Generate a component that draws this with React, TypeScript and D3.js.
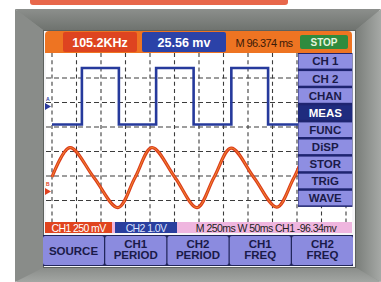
import React from 'react';
import * as d3 from 'd3';

const W = 381;
const H = 282;

// grid divisions
const gridCols = [0, 1, 2, 3, 4, 5, 6, 7, 8, 9, 10, 11, 12];
const gridRows = [1, 2, 3, 4, 5, 6];

// CH2 square wave (divisions)
const squareEdges = [1.22, 2.73, 4.25, 5.78, 7.32, 8.82];
const squareLow = 4.1;
const squareHigh = 6.41;

// CH1 sine wave sample points (divisions)
const sineT = [0, 0.73, 1.71, 2.69, 3.39, 4.08, 5.02, 5.92, 6.61, 7.31, 8.24, 9.18, 9.88, 10.57, 11.5, 12.4];
const sineV = [1.96, 3.16, 1.94, 0.71, 1.94, 3.16, 1.94, 0.71, 1.94, 3.14, 1.94, 0.73, 1.94, 3.15, 1.94, 0.72];

// channel markers
const markerLabels = ['A', 'B'];
const markerLevels = [4.84, 1.37];
const markerColors = ['#2a3a9e', '#e0401e'];

// header texts
const freqText = '105.2KHz';
const voltText = '25.56 mv';
const timeText = 'M 96.374 ms';
const stopText = 'STOP';

// menu
const menuItems = ['CH 1', 'CH 2', 'CHAN', 'MEAS', 'FUNC', 'DiSP', 'STOR', 'TRiG', 'WAVE'];
const menuSelected = 'MEAS';

// bottom buttons
const bottomButtons = [['SOURCE'], ['CH1', 'PERIOD'], ['CH2', 'PERIOD'], ['CH1', 'FREQ'], ['CH2', 'FREQ']];

// status bar
const ch1Status = 'CH1 250 mV';
const ch2Status = 'CH2 1.0V';
const infoStatus = 'M 250ms  W 50ms CH1 -96.34mv';

const FONT = '"Liberation Sans", Arial, sans-serif';

export default function App() {
  const x = d3.scaleLinear().domain([0, 12]).range([52, 346]);
  const y = d3.scaleLinear().domain([0, 7]).range([225, 53.5]);

  const sqPts: [number, number][] = [[0, squareLow]];
  squareEdges.forEach((e, i) => sqPts.push([e, i % 2 === 0 ? squareHigh : squareLow]));
  sqPts.push([12.5, squareEdges.length % 2 === 0 ? squareLow : squareHigh]);
  const sqLine = d3.line<[number, number]>().x(d => x(d[0])).y(d => y(d[1])).curve(d3.curveStepAfter);

  const sinePts: [number, number][] = sineT.map((t, i) => [t, sineV[i]]);
  const sinLine = d3.line<[number, number]>().x(d => x(d[0])).y(d => y(d[1])).curve(d3.curveCatmullRom.alpha(0.5));

  const plotL = 46, plotR = 352, plotT = 53, plotB = 222;

  const menuX = 298, menuW = 54.5, menuTop = 54, pitch = 17.1, btnH = 14.6;
  const bx = d3.scaleBand<number>().domain(d3.range(bottomButtons.length)).range([43, 353]).paddingInner(0.02);

  return (
    <svg width={W} height={H} style={{ position: 'absolute', left: 0, top: 0 }} fontFamily={FONT}>
      <defs>
        <clipPath id="plotClip">
          <rect x={plotL} y={plotT} width={plotR - plotL} height={plotB - plotT} />
        </clipPath>
        <linearGradient id="bezTop" x1="0" y1="0" x2="0" y2="1">
          <stop offset="0" stopColor="#8c8f8c" />
          <stop offset="1" stopColor="#6f736f" />
        </linearGradient>
        <linearGradient id="bezBot" x1="0" y1="0" x2="0" y2="1">
          <stop offset="0" stopColor="#8a8d8a" />
          <stop offset="1" stopColor="#a3a6a3" />
        </linearGradient>
        <linearGradient id="bezRight" x1="0" y1="0" x2="1" y2="0">
          <stop offset="0" stopColor="#7a7e7a" />
          <stop offset="1" stopColor="#a6a9a6" />
        </linearGradient>
      </defs>
      <rect x={0} y={0} width={W} height={H} fill="#ffffff" />
      {/* top strip */}
      <rect x={30} y={-6} width={258} height={11} rx={3} fill="#e8674b" />
      {/* bezel */}
      <rect x={15} y={9} width={W - 15} height={H - 9} rx={6} fill="#8d908d" />
      <polygon points={`15,9 ${W},9 356,30 43,30`} fill="url(#bezTop)" />
      <polygon points={`15,9 43,30 43,268 15,${H}`} fill="#898c89" />
      <polygon points={`${W},9 ${W},${H} 356,268 356,30`} fill="url(#bezRight)" />
      <polygon points={`15,${H} 43,268 356,268 ${W},${H}`} fill="url(#bezBot)" />
      <rect x={43} y={30} width={313} height={238} fill="#5d615d" />

      {/* screen background */}
      <rect x={44} y={31} width={311} height={236} fill="#f6f6f8" />

      {/* header */}
      <path d={`M45,53 L45,35 Q45,31 49,31 L348,31 Q352,31 352,35 L352,53 Z`} fill="#ee7422" />
      <rect x={63} y={32} width={74} height={20} rx={2} fill="#de4420" />
      <text x={100} y={46.5} textAnchor="middle" fill="#ffffff" fontWeight="bold" fontSize={12.5}>{freqText}</text>
      <rect x={142} y={32} width={84} height={20} rx={2} fill="#2b42a8" />
      <text x={184} y={46.5} textAnchor="middle" fill="#ffffff" fontWeight="bold" fontSize={12.5}>{voltText}</text>
      <text x={264} y={46.5} textAnchor="middle" fill="#3b1a08" fontSize={11} letterSpacing={-0.6}>{timeText}</text>
      <rect x={300} y={35} width={48} height={14} rx={2} fill="#2f8b3e" />
      <text x={324} y={46} textAnchor="middle" fill="#e4f4dc" fontWeight="bold" fontSize={10}>{stopText}</text>

      {/* plot area */}
      <rect x={plotL} y={plotT} width={plotR - plotL} height={plotB - plotT} fill="#ffffff" />
      <g clipPath="url(#plotClip)">
        {gridCols.map(c => (
          <line key={'v' + c} x1={x(c)} x2={x(c)} y1={plotT} y2={plotB} stroke="#3c3c3c" strokeWidth={1.1} strokeDasharray="4 3.2" />
        ))}
        {gridRows.map(r => (
          <line key={'h' + r} x1={plotL} x2={plotR} y1={y(r)} y2={y(r)} stroke="#3c3c3c" strokeWidth={1.1} strokeDasharray="5 3" />
        ))}
        <path d={sqLine(sqPts) || ''} fill="none" stroke="#263a9c" strokeWidth={2.6} strokeLinejoin="miter" />
        <path d={sinLine(sinePts) || ''} fill="none" stroke="#dc3a1c" strokeWidth={3.2} />
        <path d={sinLine(sinePts) || ''} fill="none" stroke="#f39a30" strokeWidth={0.9} />
      </g>
      {/* markers */}
      {markerLevels.map((lv, i) => (
        <g key={'m' + i}>
          <polygon points={`45,${y(lv) - 3.5} 51,${y(lv)} 45,${y(lv) + 3.5}`} fill={markerColors[i]} />
          <text x={46} y={y(lv) - 5} fontSize={5} fill={markerColors[i]} fontWeight="bold">{markerLabels[i]}</text>
        </g>
      ))}

      {/* right menu */}
      <rect x={menuX} y={plotT} width={menuW} height={menuTop + pitch * menuItems.length - plotT - 1} fill="#1e2470" />
      {menuItems.map((m, i) => {
        const sel = m === menuSelected;
        const yy = menuTop + i * pitch;
        return (
          <g key={m}>
            <rect x={menuX + 0.5} y={yy} width={menuW - 1} height={btnH} fill={sel ? '#1f2b7e' : '#8e8ee2'} />
            <text x={menuX + menuW / 2} y={yy + 11.4} textAnchor="middle" fontWeight="bold" fontSize={11.5} fill={sel ? '#ffffff' : '#1a1a48'}>{m}</text>
          </g>
        );
      })}

      {/* status bar */}
      <rect x={45} y={222} width={307} height={11} fill="#efb6df" />
      <rect x={45} y={222} width={67} height={11} fill="#e0441e" />
      <text x={78.5} y={231.5} textAnchor="middle" fill="#ffffff" fontSize={10.5} letterSpacing={-0.6}>{ch1Status}</text>
      <rect x={115} y={222} width={62} height={11} fill="#2a3f9e" />
      <text x={146} y={231.5} textAnchor="middle" fill="#dde2ff" fontSize={10.5} letterSpacing={-0.6}>{ch2Status}</text>
      <text x={266} y={231.5} textAnchor="middle" fill="#222222" fontSize={10.5} letterSpacing={-0.55}>{infoStatus}</text>

      {/* bottom buttons */}
      <rect x={43} y={235} width={310} height={31} fill="#22265a" />
      {bottomButtons.map((b, i) => (
        <g key={'b' + i}>
          <rect x={bx(i)!} y={236} width={bx.bandwidth()} height={29} rx={2} fill="#8b8bdf" />
          {b.length === 1 ? (
            <text x={bx(i)! + bx.bandwidth() / 2} y={255} textAnchor="middle" fontWeight="bold" fontSize={11.5} fill="#1a1a48">{b[0]}</text>
          ) : (
            b.map((s, j) => (
              <text key={j} x={bx(i)! + bx.bandwidth() / 2} y={248 + j * 11} textAnchor="middle" fontWeight="bold" fontSize={11.5} fill="#1a1a48">{s}</text>
            ))
          )}
        </g>
      ))}
    </svg>
  );
}
